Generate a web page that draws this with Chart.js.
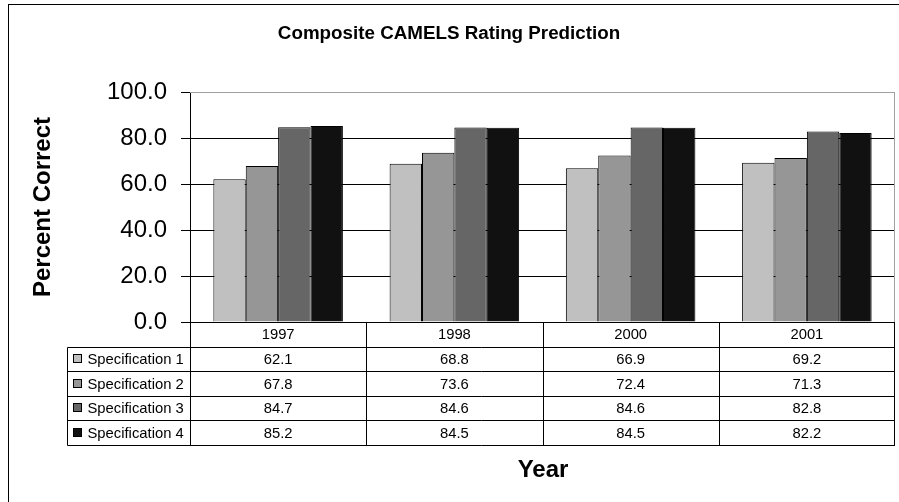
<!DOCTYPE html>
<html>
<head>
<meta charset="utf-8">
<script src="https://cdn.jsdelivr.net/npm/chart.js@4.4.1/dist/chart.umd.min.js"></script>
<style>
  html, body { margin: 0; padding: 0; background: #fff; }
  canvas { display: block; }
</style>
</head>
<body>
<canvas id="camelsChart" width="899" height="502"></canvas>
<script>
const years = ['1997', '1998', '2000', '2001'];
const seriesNames = ['Specification 1', 'Specification 2', 'Specification 3', 'Specification 4'];
const spec1 = [62.1, 68.8, 66.9, 69.2];
const spec2 = [67.8, 73.6, 72.4, 71.3];
const spec3 = [84.7, 84.6, 84.6, 82.8];
const spec4 = [85.2, 84.5, 84.5, 82.2];
const seriesColors = ['#c0c0c0', '#969696', '#666666', '#111111'];

const FONT = '"Liberation Sans", Arial, sans-serif';

// table under the plot + titles + frame
const tablePlugin = {
  id: 'dataTable',
  beforeDraw(chart) {
    const ctx = chart.ctx;
    ctx.save();
    ctx.fillStyle = '#fff';
    ctx.fillRect(0, 0, chart.width, chart.height);
    ctx.restore();
  },
  afterDraw(chart) {
    const ctx = chart.ctx;
    const area = chart.chartArea;
    const xs = chart.scales.x;
    const colW = (area.right - area.left) / years.length;
    const rowH = 24.6;
    const top = area.bottom;
    const legendLeft = 67.5;
    const rows = [spec1, spec2, spec3, spec4];

    ctx.save();
    // plot frame (top/right gray)
    ctx.strokeStyle = '#a0a0a0';
    ctx.lineWidth = 1;
    ctx.beginPath();
    ctx.moveTo(area.left, Math.round(area.top) + 0.5);
    ctx.lineTo(Math.round(area.right) - 0.5, Math.round(area.top) + 0.5);
    ctx.lineTo(Math.round(area.right) - 0.5, Math.round(area.bottom));
    ctx.stroke();

    // table grid
    ctx.strokeStyle = '#000';
    ctx.beginPath();
    for (let r = 1; r <= rows.length + 1; r++) {
      const y = Math.round(top + r * rowH) + 0.5;
      ctx.moveTo(legendLeft, y);
      ctx.lineTo(area.right, y);
    }
    ctx.moveTo(legendLeft, Math.round(top + rowH) + 0.5);
    ctx.lineTo(legendLeft, Math.round(top + (rows.length + 1) * rowH) + 0.5);
    for (let c = 0; c <= years.length; c++) {
      const x = Math.round(area.left + c * colW) - (c === years.length ? 0.5 : -0.5);
      ctx.moveTo(x, top);
      ctx.lineTo(x, Math.round(top + (rows.length + 1) * rowH) + 0.5);
    }
    ctx.stroke();

    // header and values
    ctx.fillStyle = '#000';
    ctx.font = '14.8px ' + FONT;
    ctx.textAlign = 'center';
    ctx.textBaseline = 'middle';
    years.forEach((yr, i) => {
      const cx = xs.getPixelForValue(i);
      ctx.fillText(yr, cx, top + rowH / 2 + 1);
      rows.forEach((vals, r) => {
        ctx.fillText(vals[i].toFixed(1), cx, top + (r + 1.5) * rowH + 1);
      });
    });

    // legend keys
    ctx.textAlign = 'left';
    seriesNames.forEach((name, r) => {
      const cy = top + (r + 1.5) * rowH;
      ctx.fillStyle = seriesColors[r];
      ctx.fillRect(73.5, Math.round(cy) - 4.5, 8, 8);
      ctx.strokeStyle = '#000';
      ctx.strokeRect(73.5, Math.round(cy) - 4.5, 8, 8);
      ctx.fillStyle = '#000';
      ctx.fillText(name, 87.5, cy + 1);
    });

    // titles
    ctx.textAlign = 'center';
    ctx.font = 'bold 18.8px ' + FONT;
    ctx.fillText('Composite CAMELS Rating Prediction', 449, 34);
    ctx.font = 'bold 24px ' + FONT;
    ctx.fillText('Year', 543, 470);
    ctx.save();
    ctx.translate(43, 207);
    ctx.rotate(-Math.PI / 2);
    ctx.fillText('Percent Correct', 0, 0);
    ctx.restore();

    // outer frame
    ctx.strokeStyle = '#000';
    ctx.strokeRect(8.5, 4.5, 900, 510);
    ctx.restore();
  }
};

const data = {
  labels: years,
  datasets: [spec1, spec2, spec3, spec4].map((vals, i) => ({
    label: seriesNames[i],
    data: vals,
    backgroundColor: seriesColors[i],
    borderColor: '#000',
    borderWidth: 1,
    barPercentage: 1.0,
    categoryPercentage: 0.735
  }))
};

const config = {
  type: 'bar',
  data: data,
  options: {
    responsive: false,
    animation: false,
    layout: { padding: { left: 0, top: 92, right: 4, bottom: 180 } },
    plugins: {
      legend: { display: false },
      title: { display: false },
      tooltip: { enabled: false }
    },
    scales: {
      x: { display: false },
      y: {
        min: 0,
        max: 100,
        afterFit: scale => { scale.width = 190; },
        ticks: {
          stepSize: 20,
          padding: 14,
          color: '#000',
          font: { family: FONT, size: 24 },
          callback: v => v.toFixed(1)
        },
        grid: {
          color: c => (c.tick && c.tick.value === 100 ? '#a0a0a0' : '#000'),
          tickColor: '#000',
          tickLength: 9,
          lineWidth: 1
        },
        border: { color: '#000', width: 1 }
      }
    }
  },
  plugins: [tablePlugin]
};

const camelsChart = new Chart(document.getElementById('camelsChart'), config);
</script>
</body>
</html>
